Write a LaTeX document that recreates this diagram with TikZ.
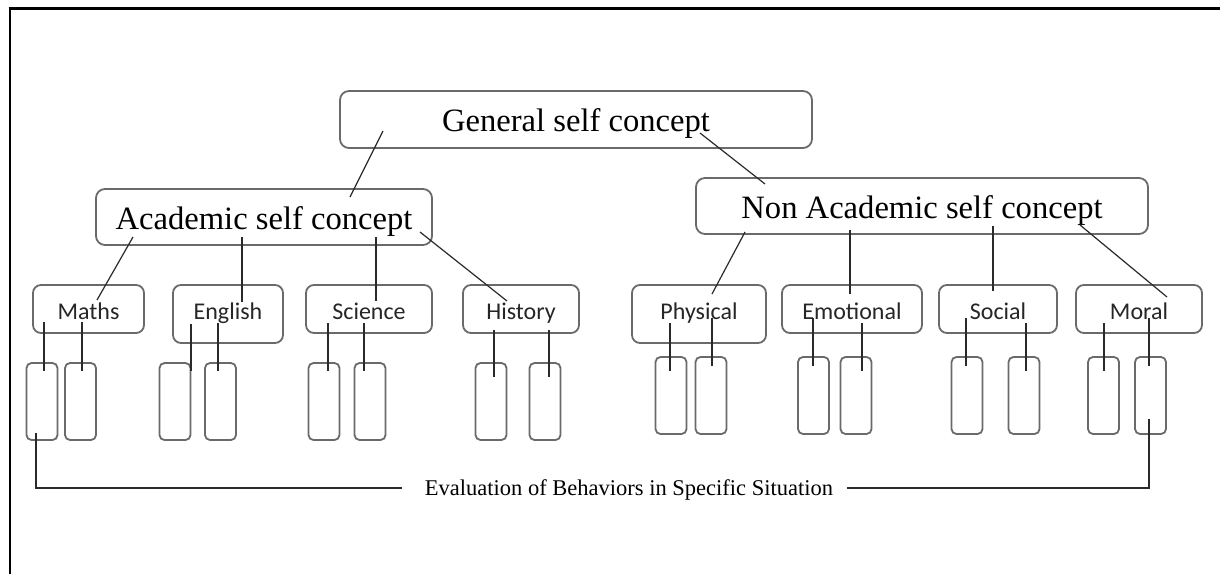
\documentclass[tikz,border=0pt]{standalone}
\usepackage{fontspec}
\setmainfont{Liberation Serif}
\newfontfamily\calfont{Carlito}
\usetikzlibrary{calc}
\definecolor{boxgray}{HTML}{6A6A6A}
\definecolor{linegray}{HTML}{2A2A2A}
\begin{document}
\begin{tikzpicture}[x=1pt,y=-1pt,
  mainbox/.style={draw=boxgray, line width=1.8pt, rounded corners=9pt, inner sep=0pt,
    text height=40pt, font=\fontsize{32.6}{38}\selectfont},
  subbox/.style={draw=boxgray, line width=1.8pt, rounded corners=8pt, inner sep=0pt,
    text height=34pt, font=\calfont\fontsize{24}{28}\selectfont, text=black!85},
  leafbox/.style={draw=boxgray, line width=1.8pt, rounded corners=5pt, inner sep=0pt,
    minimum width=31pt, minimum height=77pt},
  conn/.style={draw=linegray, line width=1.2pt}]
\useasboundingbox (0,0) rectangle (1220,574);
% frame
\draw[line width=2pt, black] (9.5,574) -- (9.5,8.5);
\draw[line width=2.6pt, black] (8.5,8.5) -- (1220,8.5);
% main boxes
\node[mainbox, minimum width=472pt, text depth=17pt] (gen) at (576,119.5) {General self concept};
\node[mainbox, minimum width=336pt, text depth=16pt] (acad) at (264,217) {Academic self concept};
\node[mainbox, minimum width=452pt, text depth=16pt] (nonacad) at (922,206) {Non Academic self concept};
% subject boxes
\node[subbox, minimum width=111pt, text depth=14pt] (maths) at (88.5,309) {Maths};
\node[subbox, minimum width=110pt, text depth=24pt] (english) at (228,314) {English};
\node[subbox, minimum width=126pt, text depth=14pt] (science) at (369,309) {Science};
\node[subbox, minimum width=116pt, text depth=14pt] (history) at (521,309) {History};
\node[subbox, minimum width=134pt, text depth=24pt] (physical) at (699,314) {Physical};
\node[subbox, minimum width=140pt, text depth=14pt] (emotional) at (852,309) {Emotional};
\node[subbox, minimum width=118pt, text depth=14pt] (social) at (998,309) {Social};
\node[subbox, minimum width=126pt, text depth=14pt] (moral) at (1139,309) {Moral};
% leaf boxes
\foreach \n/\x in {ma1/42, ma2/80.5, en1/175, en2/220.5, sc1/324, sc2/370, hi1/491, hi2/545}
  \node[leafbox] (\n) at (\x,401.5) {};
\foreach \n/\x in {ph1/671, ph2/711, em1/813.5, em2/856, so1/967, so2/1024, mo1/1103.5, mo2/1150.5}
  \node[leafbox] (\n) at (\x,395.5) {};
% connectors between main levels
\draw[conn] ($(gen.center)+(-193,11.5)$) -- ($(acad.center)+(86,-20)$);
\draw[conn] ($(gen.center)+(124,13.5)$) -- ($(nonacad.center)+(-157,-22)$);
\draw[conn] ($(acad.center)+(-131,20)$) -- ($(maths.center)+(8.5,-9)$);
\draw[conn] ($(acad.center)+(-22,20)$) -- ($(english.center)+(14,-12)$);
\draw[conn] ($(acad.center)+(112,20)$) -- ($(science.center)+(7,-8)$);
\draw[conn] ($(acad.center)+(156,15)$) -- ($(history.center)+(-14,-8)$);
\draw[conn] ($(nonacad.center)+(-177,26)$) -- ($(physical.center)+(13,-20)$);
\draw[conn] ($(nonacad.center)+(-72,24)$) -- ($(emotional.center)+(-2,-15)$);
\draw[conn] ($(nonacad.center)+(71,20)$) -- ($(social.center)+(-5,-18)$);
\draw[conn] ($(nonacad.center)+(158,19)$) -- ($(moral.center)+(28,-12)$);
% connectors from subjects to leaves
\foreach \n/\dx/\dy/\l in {ma1/2/-40/49, ma2/1.5/-40/49, en1/16/-38/47, en2/-2.5/-39/48,
    sc1/4/-39/48, sc2/-6/-39/48, hi1/3/-32/47, hi2/4/-32/47,
    ph1/-1/-33/48, ph2/1/-38/48, em1/-0.5/-38/48, em2/6/-33/48,
    so1/-1/-38/48, so2/2/-33/48, mo1/0.5/-33/48, mo2/-1.5/-38/48}
  \draw[conn] (\n.north) ++(\dx,\dy) -- ++(0,\l);
% bottom label and bracket
\node[inner sep=0pt, text height=16pt, text depth=2pt, font=\fontsize{22.5}{26}\selectfont] (eval) at (629,488) {Evaluation of Behaviors in Specific Situation};
\draw[conn] ($(ma1.south)+(-6,-8)$) |- ([xshift=-23pt]eval.west);
\draw[conn] ([xshift=14pt]eval.east) -| ($(mo2.south)+(-1.5,-16)$);
\end{tikzpicture}
\end{document}
